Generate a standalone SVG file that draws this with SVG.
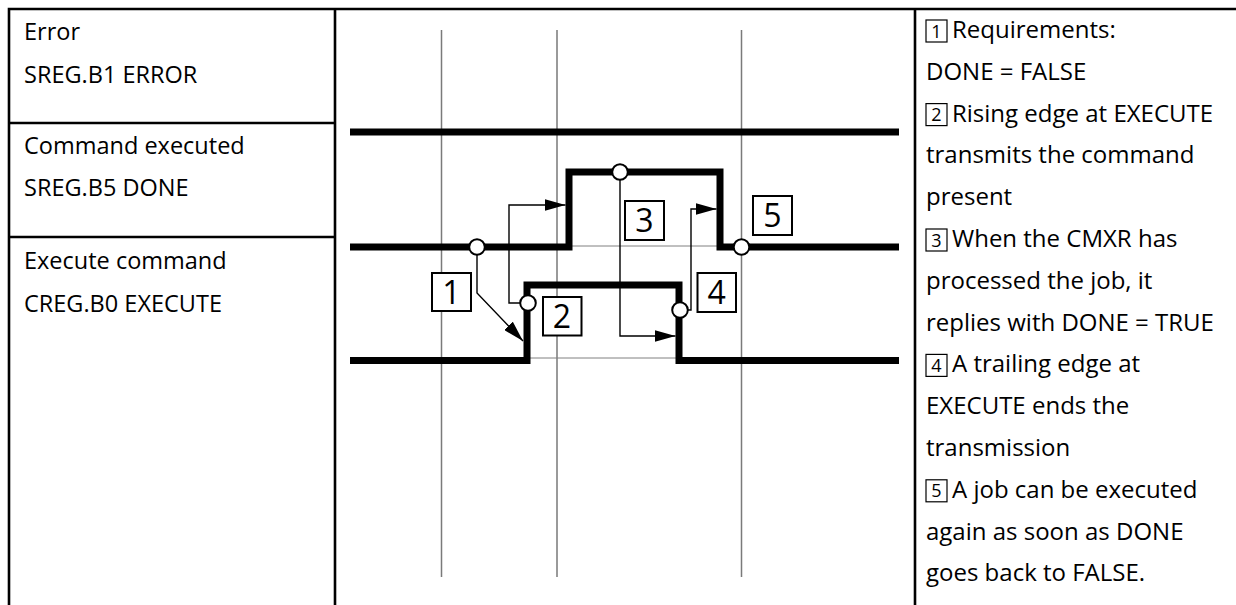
<svg xmlns="http://www.w3.org/2000/svg" width="1236" height="605" viewBox="0 0 1236 605">
<style>
.t{font-family:"Open Sans","Noto Sans",sans-serif;font-size:23.5px;fill:#000}
.tr{font-family:"Open Sans","Noto Sans",sans-serif;font-size:24px;fill:#000}
.tbl{stroke:#000;stroke-width:2.6;fill:none}
.grid{stroke:#7a7a7a;stroke-width:1.5;fill:none}
.lvl{stroke:#808080;stroke-width:1;fill:none}
.sig{stroke:#000;stroke-width:7;fill:none;stroke-linejoin:miter;stroke-linecap:butt}
.con{stroke:#000;stroke-width:1.4;fill:none;marker-end:url(#ah)}
.pt{fill:#fff;stroke:#000;stroke-width:2}
.lb{fill:#fff;stroke:#000;stroke-width:2}
.ld{font-family:"Open Sans","Noto Sans",sans-serif;font-size:32px;text-anchor:middle;fill:#000}
.sb{fill:#fff;stroke:#000;stroke-width:1.2}
.sd{font-family:"Open Sans","Noto Sans",sans-serif;font-size:18px;text-anchor:middle;fill:#000}
</style>
<defs>
<marker id="ah" markerUnits="userSpaceOnUse" markerWidth="21" markerHeight="12" refX="21" refY="6" orient="auto" viewBox="0 0 21 12">
<path d="M0,0 L21,6 L0,12 z" fill="#000"/>
</marker>
</defs>
<rect width="1236" height="605" fill="#fff"/>
<g id="table">
<path class="tbl" d="M9,605 V9 H1236 M335,9 V605 M915,9 V605 M9,123 H335 M9,237 H335"/>
</g>
<g id="labels-left">
<text class="t" x="24" y="40">Error</text>
<text class="t" x="24" y="83">SREG.B1 ERROR</text>
<text class="t" x="24" y="154">Command executed</text>
<text class="t" x="24" y="196">SREG.B5 DONE</text>
<text class="t" x="24" y="269">Execute command</text>
<text class="t" x="24" y="312">CREG.B0 EXECUTE</text>
</g>
<g id="grid">
<path class="grid" d="M441.5,30 V577 M557,30 V577 M741.5,30 V577"/>
<path class="lvl" d="M569,246 H720 M527,358 H679"/>
</g>
<g id="signal-error"><path class="sig" d="M350,132 H899"/></g>
<g id="signal-done"><path class="sig" d="M350,247 H569 V172 H720 V247 H899"/></g>
<g id="signal-execute"><path class="sig" d="M350,360.5 H527 V285 H679 V360.5 H899"/></g>
<g id="connectors">
<path class="con" d="M477,250 V293 L523,341"/>
<path class="con" d="M524,303 H509 V205 H565.5"/>
<path class="con" d="M620,176 V336 H675.5"/>
<path class="con" d="M684,310 H691 V209 H716.5"/>
</g>
<g id="points">
<circle class="pt" cx="477" cy="247" r="7.8"/>
<circle class="pt" cx="528" cy="303" r="7.8"/>
<circle class="pt" cx="620" cy="172" r="7.8"/>
<circle class="pt" cx="680" cy="310" r="7.8"/>
<circle class="pt" cx="741.5" cy="247" r="7.8"/>
</g>
<g id="label-1"><rect class="lb" x="432" y="273" width="39" height="38"/><text class="ld" x="451.5" y="303.5">1</text></g>
<g id="label-2"><rect class="lb" x="543" y="297" width="38.5" height="38.5"/><text class="ld" x="562" y="327.5">2</text></g>
<g id="label-3"><rect class="lb" x="625" y="201" width="39" height="39"/><text class="ld" x="644.5" y="232">3</text></g>
<g id="label-4"><rect class="lb" x="697.5" y="273" width="38.5" height="39"/><text class="ld" x="716.7" y="303.5">4</text></g>
<g id="label-5"><rect class="lb" x="753" y="196" width="39" height="39"/><text class="ld" x="772.5" y="227">5</text></g>
<g id="legend">
<rect class="sb" x="926" y="20" width="21" height="22"/><text class="sd" x="936.5" y="37.5">1</text>
<text class="tr" x="952" y="38">Requirements:</text>
<text class="tr" x="926" y="79.8">DONE = FALSE</text>
<rect class="sb" x="926" y="103.6" width="21" height="22"/><text class="sd" x="936.5" y="121.1">2</text>
<text class="tr" x="952" y="121.6">Rising edge at EXECUTE</text>
<text class="tr" x="926" y="163.4">transmits the command</text>
<text class="tr" x="926" y="205.2">present</text>
<rect class="sb" x="926" y="229" width="21" height="22"/><text class="sd" x="936.5" y="246.5">3</text>
<text class="tr" x="952" y="247">When the CMXR has</text>
<text class="tr" x="926" y="288.8">processed the job, it</text>
<text class="tr" x="926" y="330.6">replies with DONE = TRUE</text>
<rect class="sb" x="926" y="354.4" width="21" height="22"/><text class="sd" x="936.5" y="371.9">4</text>
<text class="tr" x="952" y="372.4">A trailing edge at</text>
<text class="tr" x="926" y="414.2">EXECUTE ends the</text>
<text class="tr" x="926" y="456">transmission</text>
<rect class="sb" x="926" y="479.8" width="21" height="22"/><text class="sd" x="936.5" y="497.3">5</text>
<text class="tr" x="952" y="497.8">A job can be executed</text>
<text class="tr" x="926" y="539.6">again as soon as DONE</text>
<text class="tr" x="926" y="581.4">goes back to FALSE.</text>
</g>
</svg>
